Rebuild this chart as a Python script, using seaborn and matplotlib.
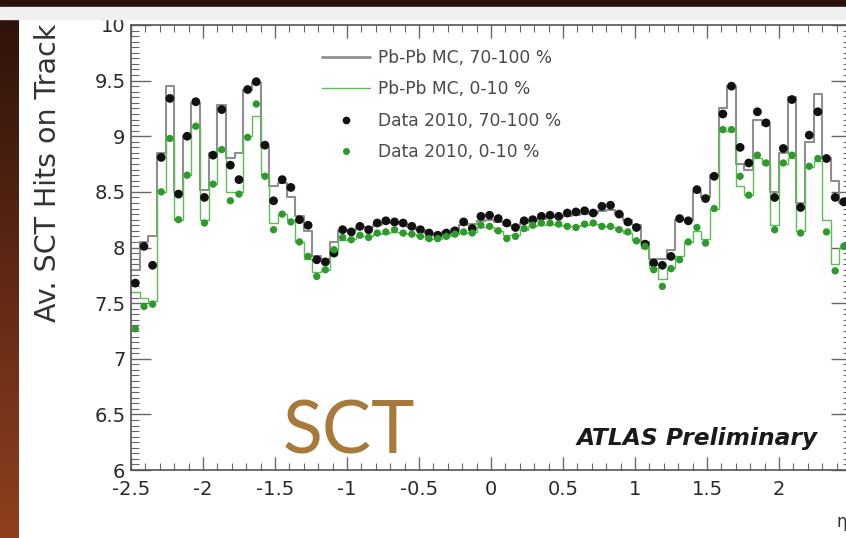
import numpy as np
import pandas as pd
import seaborn as sns
import matplotlib.pyplot as plt
from matplotlib.lines import Line2D
from matplotlib.patches import Rectangle
from matplotlib.colors import LinearSegmentedColormap
from matplotlib.ticker import MultipleLocator

# eta bins of width 0.06 from -2.5
eta_edges = np.round(np.arange(-2.5, 2.5, 0.06), 2)
eta = np.round((eta_edges[:-1] + eta_edges[1:]) / 2, 3)

data_periph = [7.68, 8.01, 7.84, 8.81, 9.34, 8.48, 9.00, 9.31, 8.45, 8.83,
               9.24, 8.74, 8.61, 9.42, 9.49, 8.92, 8.42, 8.61, 8.54, 8.25,
               8.20, 7.89, 7.87, 7.95, 8.16, 8.14, 8.19, 8.16, 8.22, 8.24,
               8.23, 8.22, 8.19, 8.16, 8.13, 8.11, 8.13, 8.15, 8.23, 8.17,
               8.28, 8.29, 8.26, 8.22, 8.18, 8.24, 8.25, 8.28, 8.29, 8.28,
               8.31, 8.32, 8.33, 8.31, 8.37, 8.38, 8.30, 8.23, 8.18, 8.03,
               7.86, 7.84, 7.92, 8.26, 8.24, 8.52, 8.44, 8.64, 9.20, 9.45,
               8.90, 8.76, 9.22, 9.12, 8.45, 8.89, 9.33, 8.36, 9.01, 9.22,
               8.80, 8.45, 8.41]
data_central = [7.27, 7.47, 7.49, 8.50, 8.98, 8.25, 8.65, 9.09, 8.22, 8.57,
                8.88, 8.42, 8.48, 8.99, 9.29, 8.64, 8.16, 8.30, 8.23, 8.05,
                7.92, 7.74, 7.80, 7.98, 8.09, 8.07, 8.11, 8.09, 8.13, 8.14,
                8.16, 8.13, 8.12, 8.10, 8.08, 8.08, 8.10, 8.12, 8.14, 8.13,
                8.20, 8.19, 8.15, 8.08, 8.10, 8.17, 8.20, 8.22, 8.22, 8.21,
                8.19, 8.18, 8.21, 8.22, 8.19, 8.19, 8.16, 8.14, 8.06, 8.01,
                7.80, 7.65, 7.81, 7.89, 8.05, 8.18, 8.04, 8.35, 9.06, 9.06,
                8.64, 8.47, 8.83, 8.76, 8.16, 8.76, 8.83, 8.13, 8.73, 8.80,
                8.14, 7.79, 8.01]
mc_periph = [7.80, 8.05, 8.10, 8.85, 9.45, 8.50, 9.00, 9.30, 8.52, 8.85,
             9.28, 8.80, 8.85, 9.42, 9.48, 8.90, 8.55, 8.58, 8.45, 8.28,
             8.15, 7.92, 7.90, 8.05, 8.15, 8.16, 8.18, 8.18, 8.20, 8.22,
             8.22, 8.21, 8.18, 8.16, 8.13, 8.12, 8.14, 8.17, 8.20, 8.21,
             8.24, 8.25, 8.23, 8.20, 8.19, 8.22, 8.24, 8.26, 8.27, 8.27,
             8.28, 8.29, 8.30, 8.31, 8.33, 8.34, 8.30, 8.25, 8.20, 8.05,
             7.90, 7.90, 7.98, 8.25, 8.25, 8.50, 8.45, 8.65, 9.25, 9.45,
             8.75, 8.70, 9.15, 9.10, 8.50, 8.85, 9.35, 8.40, 8.95, 9.38,
             8.80, 8.60, 8.40]
mc_central = [7.60, 7.55, 7.52, 8.50, 8.98, 8.25, 8.65, 9.08, 8.25, 8.57,
              8.88, 8.50, 8.50, 9.00, 9.18, 8.65, 8.22, 8.30, 8.25, 8.05,
              7.90, 7.78, 7.80, 7.98, 8.07, 8.08, 8.10, 8.10, 8.12, 8.13,
              8.14, 8.13, 8.12, 8.10, 8.08, 8.08, 8.10, 8.12, 8.13, 8.14,
              8.18, 8.18, 8.15, 8.11, 8.11, 8.16, 8.19, 8.20, 8.21, 8.20,
              8.19, 8.19, 8.20, 8.21, 8.19, 8.18, 8.16, 8.13, 8.07, 8.00,
              7.82, 7.72, 7.82, 7.92, 8.05, 8.15, 8.08, 8.35, 9.05, 9.05,
              8.55, 8.47, 8.80, 8.75, 8.20, 8.75, 8.80, 8.15, 8.72, 8.78,
              8.25, 7.85, 8.00]

legend_labels = ["Pb-Pb MC, 70-100 %", "Pb-Pb MC, 0-10 %",
                 "Data 2010, 70-100 %", "Data 2010, 0-10 %"]

df = pd.DataFrame({"eta": eta, "data_periph": data_periph, "data_central": data_central})
# step outlines drawn from the bin edges
steps = pd.DataFrame({"edge": eta_edges,
                      "mc_periph": mc_periph + [mc_periph[-1]],
                      "mc_central": mc_central + [mc_central[-1]]})

sns.set_style("ticks")
plt.rcParams["font.family"] = ["DejaVu Sans"]
plt.rcParams["axes.unicode_minus"] = False

fig = plt.figure(figsize=(8.46, 5.38), dpi=100)
fig.patch.set_facecolor("white")

# slide background: dark strip at top, brown gradient at left
fig.patches.append(Rectangle((0, 1 - 7 / 538), 1, 7 / 538, transform=fig.transFigure,
                             color="#2a1209", zorder=0))
fig.patches.append(Rectangle((0, 1 - 19 / 538), 1, 12 / 538, transform=fig.transFigure,
                             color="#f0f0f0", zorder=0))
bg = fig.add_axes([0, 0, 18 / 846, 1])
cmap = LinearSegmentedColormap.from_list("slide", ["#2b1109", "#5e2814", "#903f1f"])
bg.imshow(np.linspace(0, 1, 256).reshape(-1, 1), aspect="auto", cmap=cmap)
bg.axis("off")

ax = fig.add_axes([131 / 846, 1 - 470 / 538, 720 / 846, 445 / 538])
ax.set_facecolor("white")

sns.lineplot(data=steps, x="edge", y="mc_periph", drawstyle="steps-post", estimator=None,
             color="#8f8f8f", lw=1.5, ax=ax, zorder=2)
sns.lineplot(data=steps, x="edge", y="mc_central", drawstyle="steps-post", estimator=None,
             color="#5cbf52", lw=1.0, ax=ax, zorder=2)
sns.scatterplot(data=df, x="eta", y="data_periph", color="#111111", s=40,
                edgecolor="none", ax=ax, zorder=3)
sns.scatterplot(data=df, x="eta", y="data_central", color="#2e9a2e", s=28,
                edgecolor="none", ax=ax, zorder=3)

ax.set_xlim(-2.5, 2.5)
ax.set_ylim(6, 10)
ax.set_xlabel("")
ax.set_ylabel("")
ax.xaxis.set_major_locator(MultipleLocator(0.5))
ax.xaxis.set_minor_locator(MultipleLocator(0.1))
ax.yaxis.set_major_locator(MultipleLocator(0.5))
ax.yaxis.set_minor_locator(MultipleLocator(0.05))
ax.set_xticks(np.arange(-2.5, 2.01, 0.5))
ax.set_xticklabels(["-2.5", "-2", "-1.5", "-1", "-0.5", "0", "0.5", "1", "1.5", "2"])
ax.set_yticks(np.arange(6, 10.01, 0.5))
ax.set_yticklabels(["6", "6.5", "7", "7.5", "8", "8.5", "9", "9.5", "10"])

ax.tick_params(which="both", direction="in", top=True, right=True,
               color="#666666", labelcolor="#2a2a2a", labelsize=14)
ax.tick_params(axis="y", which="major", length=14.5, width=1, pad=4)
ax.tick_params(axis="y", which="minor", length=6, width=0.8)
ax.tick_params(axis="x", which="major", length=9.5, width=1, pad=7)
ax.tick_params(axis="x", which="minor", length=5, width=0.8)
for sp in ax.spines.values():
    sp.set_color("#555555")
    sp.set_linewidth(1.2)

handles = [Line2D([], [], color="#8f8f8f", lw=2.0),
           Line2D([], [], color="#5cbf52", lw=1.0),
           Line2D([], [], ls="none", marker="o", color="#111111", markersize=4.5),
           Line2D([], [], ls="none", marker="o", color="#2e9a2e", markersize=4)]
leg = ax.legend(handles, legend_labels, loc="upper left", bbox_to_anchor=(0.265, 0.946),
                frameon=False, fontsize=12.3, labelspacing=0.78, handlelength=2.8,
                handletextpad=0.5, borderpad=0, borderaxespad=0)
for t in leg.get_texts():
    t.set_color("#4a4a4a")

ax.text(0.953, 0.056, "ATLAS Preliminary", transform=ax.transAxes, ha="right",
        va="baseline", fontsize=16.8, fontweight="bold", fontstyle="italic", color="#1a1a1a")

fig.text(48 / 846, 1 - 173 / 538, "Av. SCT Hits on Track", rotation=90, ha="center",
         va="center", fontsize=20.5, color="#333333")
fig.text(283 / 846, 1 - 454 / 538, "SCT", fontsize=53, color="#a77a3c",
         family=["Lato", "DejaVu Sans"], ha="left", va="baseline")
fig.text(836 / 846, 1 - 527 / 538, "η", fontsize=12, color="#333333", ha="left",
         va="baseline")

fig.savefig("out.png", dpi=100)
plt.close(fig)
